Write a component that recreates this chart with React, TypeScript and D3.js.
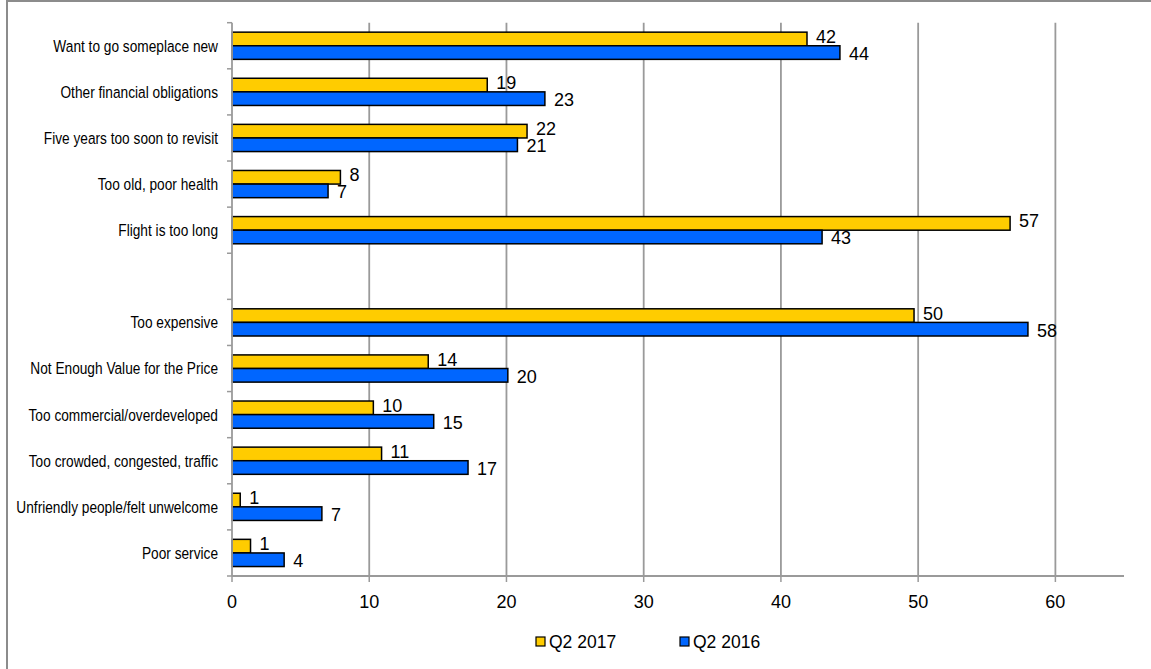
import React from "react";
import * as d3 from "d3";

const categories = [
  "Want to go someplace new",
  "Other financial obligations",
  "Five years too soon to revisit",
  "Too old, poor health",
  "Flight is too long",
  "",
  "Too expensive",
  "Not Enough Value for the Price",
  "Too commercial/overdeveloped",
  "Too crowded, congested, traffic",
  "Unfriendly people/felt unwelcome",
  "Poor service",
];
const q2017: (number | null)[] = [41.9, 18.6, 21.5, 7.9, 56.7, null, 49.7, 14.3, 10.3, 10.9, 0.6, 1.35];
const q2016: (number | null)[] = [44.3, 22.8, 20.8, 7.0, 43.0, null, 58.0, 20.1, 14.7, 17.2, 6.55, 3.8];
const seriesNames = ["Q2 2017", "Q2 2016"];
const seriesColors = ["#FFCC00", "#0066FF"];
const xTicks = [0, 10, 20, 30, 40, 50, 60];
const xMax = 65;

const W = 1151;
const H = 669;
const left = 232;
const right = 1124;
const top = 22.7;
const bottom = 576;
const grid = "#9a9a9a";

export default function App() {
  const x = d3.scaleLinear().domain([0, xMax]).range([left, right]);
  const yBand = d3
    .scaleBand<string>()
    .domain(categories.map((_, i) => String(i)))
    .range([top, bottom])
    .paddingInner(0.41)
    .paddingOuter(0.205);
  const step = yBand.step();
  const sub = d3.scaleBand<string>().domain(["0", "1"]).range([0, yBand.bandwidth()]);
  const series = [q2017, q2016];

  return (
    <svg
      width={W}
      height={H}
      style={{ position: "absolute", left: 0, top: 0, background: "#fff" }}
      fontFamily="'Liberation Sans', Arial, sans-serif"
    >
      {/* frame */}
      <line x1={7} y1={0} x2={7} y2={H + 5} stroke="#8c8c8c" strokeWidth={2} />
      <line x1={7} y1={1} x2={W + 5} y2={1} stroke="#8c8c8c" strokeWidth={2} />

      {/* gridlines */}
      {xTicks.filter((t) => t > 0).map((t) => (
        <line key={"g" + t} x1={x(t)} x2={x(t)} y1={top} y2={bottom} stroke={grid} strokeWidth={1.8} />
      ))}

      {/* bars */}
      {series.map((vals, si) =>
        vals.map((v, i) => {
          if (v == null) return null;
          const y0 = (yBand(String(i)) as number) + (sub(String(si)) as number);
          const h = sub.bandwidth();
          return (
            <g key={si + "-" + i}>
              <rect
                x={x(0)}
                y={y0}
                width={x(v) - x(0)}
                height={h}
                fill={seriesColors[si]}
                stroke="#000"
                strokeWidth={1.5}
              />
              <text
                x={x(v) + 9}
                y={y0 + h / 2 + (si === 0 ? -2.5 : 1)}
                dy="0.36em"
                fontSize={18}
                fill="#000"
              >
                {Math.round(v)}
              </text>
            </g>
          );
        })
      )}

      {/* y axis */}
      <line x1={left} x2={left} y1={top} y2={bottom} stroke={grid} strokeWidth={1.8} />
      {d3.range(categories.length + 1).map((i) => (
        <line key={"yt" + i} x1={left - 5} x2={left} y1={top + i * step} y2={top + i * step} stroke={grid} strokeWidth={1.5} />
      ))}
      {categories.map((c, i) => (
        <text
          key={"c" + i}
          transform={`translate(218, ${(yBand(String(i)) as number) + yBand.bandwidth() / 2}) scale(0.83,1)`}
          textAnchor="end"
          dy="0.36em"
          fontSize={16.5}
          fill="#000"
        >
          {c}
        </text>
      ))}

      {/* x axis */}
      <line x1={left} x2={right} y1={bottom} y2={bottom} stroke={grid} strokeWidth={1.8} />
      {xTicks.map((t) => (
        <g key={"xt" + t}>
          <line x1={x(t)} x2={x(t)} y1={bottom} y2={bottom + 6} stroke={grid} strokeWidth={1.5} />
          <text x={x(t)} y={602} dy="0.36em" textAnchor="middle" fontSize={18} fill="#000">
            {t}
          </text>
        </g>
      ))}

      {/* legend */}
      {seriesNames.map((n, i) => {
        const lx = 536 + i * 144;
        return (
          <g key={"l" + i}>
            <rect x={lx} y={637} width={9} height={9} fill={seriesColors[i]} stroke="#000" strokeWidth={1.2} />
            <text x={lx + 13} y={642} dy="0.36em" fontSize={17.5} fill="#000">
              {n}
            </text>
          </g>
        );
      })}
    </svg>
  );
}
